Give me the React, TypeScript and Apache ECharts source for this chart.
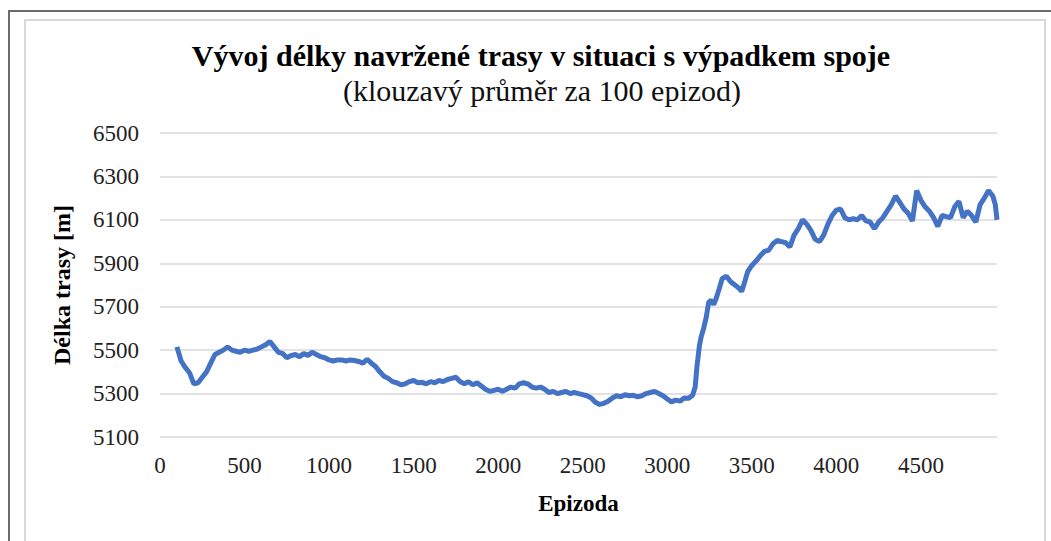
import React, { useEffect, useRef } from "react";
import * as echarts from "echarts";

const titleText = "Vývoj délky navržené trasy v situaci s výpadkem spoje";
const subtitleText = "(klouzavý průměr za 100 epizod)";
const xAxisName = "Epizoda";
const yAxisName = "Délka trasy [m]";

const xTicks = [0, 500, 1000, 1500, 2000, 2500, 3000, 3500, 4000, 4500];
const yTicks = [5100, 5300, 5500, 5700, 5900, 6100, 6300, 6500];

const episodes = [
  100, 125, 150, 175, 200, 225, 250, 275, 300, 325, 350, 375, 400, 425, 450, 475,
  500, 525, 550, 575, 600, 625, 650, 675, 700, 725, 750, 775, 800, 825, 850, 875,
  900, 925, 950, 975, 1000, 1025, 1050, 1075, 1100, 1125, 1150, 1175, 1200, 1225, 1250, 1275,
  1300, 1325, 1350, 1375, 1400, 1425, 1450, 1475, 1500, 1525, 1550, 1575, 1600, 1625, 1650, 1675,
  1700, 1725, 1750, 1775, 1800, 1825, 1850, 1875, 1900, 1925, 1950, 1975, 2000, 2025, 2050, 2075,
  2100, 2125, 2150, 2175, 2200, 2225, 2250, 2275, 2300, 2325, 2350, 2375, 2400, 2425, 2450, 2475,
  2500, 2525, 2550, 2575, 2600, 2625, 2650, 2675, 2700, 2725, 2750, 2775, 2800, 2825, 2850, 2875,
  2900, 2925, 2950, 2975, 3000, 3025, 3050, 3075, 3100, 3125, 3150, 3165, 3175, 3190, 3200, 3215,
  3230, 3245, 3260, 3275, 3290, 3310, 3325, 3350, 3375, 3400, 3425, 3440, 3460, 3475, 3500, 3525,
  3550, 3575, 3600, 3625, 3650, 3675, 3700, 3725, 3750, 3775, 3800, 3825, 3850, 3875, 3900, 3925,
  3950, 3975, 4000, 4025, 4050, 4075, 4100, 4125, 4150, 4175, 4200, 4225, 4250, 4275, 4300, 4325,
  4350, 4375, 4400, 4425, 4450, 4475, 4500, 4525, 4550, 4575, 4600, 4625, 4650, 4675, 4700, 4725,
  4750, 4775, 4800, 4825, 4850, 4875, 4900, 4925, 4940, 4950,
];

const routeLength = [
  5515, 5450, 5420, 5395, 5345, 5350, 5375, 5400, 5440, 5480, 5490, 5500, 5515, 5500, 5495, 5490,
  5500, 5495, 5500, 5505, 5515, 5525, 5540, 5515, 5490, 5485, 5465, 5475, 5480, 5470, 5485, 5475,
  5490, 5480, 5470, 5465, 5455, 5450, 5455, 5455, 5450, 5455, 5452, 5448, 5440, 5458, 5440, 5425,
  5400, 5380, 5370, 5355, 5350, 5340, 5345, 5355, 5360, 5350, 5352, 5345, 5355, 5350, 5360, 5355,
  5365, 5370, 5375, 5355, 5345, 5355, 5340, 5350, 5335, 5320, 5310, 5315, 5320, 5310, 5320, 5330,
  5325, 5345, 5350, 5345, 5330, 5325, 5330, 5320, 5305, 5310, 5300, 5305, 5310, 5300, 5305, 5300,
  5295, 5290, 5280, 5260, 5250, 5255, 5265, 5280, 5290, 5285, 5295, 5290, 5292, 5285, 5290, 5300,
  5305, 5310, 5300, 5290, 5275, 5262, 5270, 5265, 5280, 5278, 5292, 5330, 5420, 5520, 5560, 5600,
  5650, 5720, 5730, 5710, 5740, 5790, 5830, 5840, 5815, 5800, 5785, 5770, 5820, 5860, 5890, 5910,
  5935, 5955, 5960, 5990, 6005, 6000, 5995, 5975, 6030, 6060, 6100, 6080, 6050, 6010, 6000, 6030,
  6080, 6120, 6145, 6150, 6110, 6100, 6105, 6100, 6120, 6095, 6090, 6060, 6090, 6110, 6140, 6170,
  6210, 6180, 6150, 6130, 6095, 6235, 6190, 6160, 6140, 6110, 6070, 6120, 6115, 6110, 6160, 6185,
  6110, 6140, 6120, 6090, 6170, 6200, 6235, 6210, 6170, 6100,
];

export default function App() {
  const ref = useRef<HTMLDivElement>(null);

  useEffect(() => {
    if (!ref.current) return;
    const chart = echarts.init(ref.current, null, { renderer: "svg" });
    const font = "'Liberation Serif', 'Times New Roman', serif";
    chart.setOption({
      animation: false,
      backgroundColor: "#ffffff",
      textStyle: { fontFamily: font },
      title: [
        {
          text: titleText,
          left: 536,
          textAlign: "center",
          top: 35,
          textStyle: { fontFamily: font, fontSize: 30, fontWeight: "bold", color: "#000" },
        },
        {
          text: subtitleText,
          left: 537,
          textAlign: "center",
          top: 70,
          textStyle: { fontFamily: font, fontSize: 30, fontWeight: "normal", color: "#111" },
        },
      ],
      graphic: [
        {
          type: "polyline",
          shape: { points: [[1051, 11], [9, 11], [9, 541]] },
          style: { stroke: "#6b6b6b", lineWidth: 2, fill: null },
          silent: true,
        },
        {
          type: "rect",
          shape: { x: 25, y: 20, width: 1020, height: 600 },
          style: { stroke: "#d9d9d9", lineWidth: 2, fill: null },
          silent: true,
        },
      ],
      grid: {
        left: 160,
        right: 54,
        top: 133,
        bottom: 104,
        containLabel: false,
        outerBoundsMode: "none",
      },
      xAxis: {
        type: "value",
        min: 0,
        max: 4950,
        name: xAxisName,
        nameLocation: "middle",
        nameGap: 55,
        nameTextStyle: { fontFamily: font, fontSize: 23, fontWeight: "bold", color: "#000" },
        axisLine: { show: false },
        axisTick: { show: false, customValues: xTicks },
        splitLine: { show: false },
        axisLabel: {
          customValues: xTicks,
          formatter: (v: number) => String(v),
          fontFamily: font,
          fontSize: 23,
          color: "#222",
          margin: 17,
        },
      },
      yAxis: {
        type: "value",
        min: 5100,
        max: 6500,
        name: yAxisName,
        nameLocation: "middle",
        nameGap: 86,
        nameTextStyle: { fontFamily: font, fontSize: 24, fontWeight: "bold", color: "#000" },
        axisLine: { show: false },
        axisTick: { show: false, customValues: yTicks },
        splitLine: { show: true, lineStyle: { color: "#d9d9d9", width: 1.5 } },
        axisLabel: {
          customValues: yTicks,
          formatter: (v: number) => String(v),
          fontFamily: font,
          fontSize: 23,
          color: "#222",
          margin: 21,
        },
      },
      series: [
        {
          type: "line",
          data: episodes.map((e, i) => [e, routeLength[i]]),
          showSymbol: false,
          lineStyle: { color: "#4472C4", width: 5 },
          itemStyle: { color: "#4472C4" },
        },
      ],
    });
    return () => chart.dispose();
  }, []);

  return (
    <div
      ref={ref}
      style={{ position: "fixed", left: 0, top: 0, width: 1051, height: 541 }}
    />
  );
}
